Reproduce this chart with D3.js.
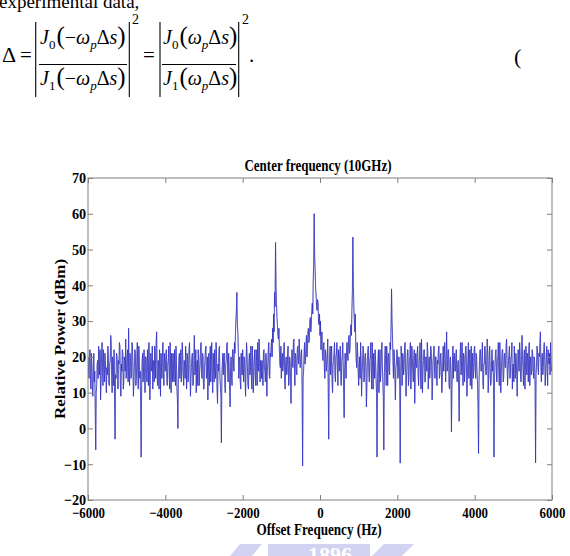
<!DOCTYPE html>
<html>
<head>
<meta charset="utf-8">
<script src="https://cdn.jsdelivr.net/npm/d3@7"></script>
<style>
body { margin: 0; background: #fff; }
svg { display: block; }
text { font-family: "Liberation Serif", "Times New Roman", serif; fill: #000; }
</style>
</head>
<body>
<svg width="570" height="556"></svg>
<script>
// spectrum samples, 12.5 Hz apart, from -6000 Hz (one row = 500 Hz)
var freqStart = -6000;
var freqStep = 12.5;
var power = [
	20,17,14,19,22,15,11,21,18,12,9,16,21,13,16,5,-6,10,12,18,19,14,23,20,15,22,8,13,20,24,17,12,22,18,13,21,19,15,10,17,
	15,23,21,13,12,18,19,26,24,14,10,20,17,12,22,8,-3,15,14,21,20,17,11,19,18,24,23,12,9,18,16,22,21,11,13,20,19,16,25,14,
	17,20,22,13,28,16,12,21,19,14,15,24,23,17,9,13,18,22,21,12,14,19,24,16,11,23,20,14,16,6,-8,12,19,21,13,17,22,15,10,20,
	20,16,13,22,18,12,24,19,8,15,21,17,16,23,11,18,19,13,23,20,14,24,27,15,12,19,18,11,22,17,9,21,17,14,20,24,15,12,21,18,
	16,20,22,14,12,18,19,23,15,11,24,17,10,21,18,13,21,16,13,22,17,12,23,19,11,8,0,15,19,21,14,18,22,13,16,24,20,15,12,19,
	18,14,23,17,11,21,20,13,15,22,24,18,9,14,17,20,21,12,13,19,26,15,16,22,10,17,19,12,22,20,12,16,18,23,24,15,14,21,20,11,
	11,17,19,22,23,14,15,20,8,16,21,12,17,23,13,19,24,15,10,21,18,13,22,17,14,24,20,11,7,18,16,22,23,14,12,9,-4,15,18,21,
	15,20,21,13,10,18,19,23,24,16,13,21,17,11,6,17,20,14,12,22,22,18,16,24,21,26,30,33,38,29,27,22,14,19,20,13,11,21,18,15,
	22,17,13,20,19,14,9,18,24,21,16,12,11,19,21,15,17,23,14,11,23,18,10,16,19,22,15,12,22,19,12,24,20,16,25,21,13,19,18,14,
	19,15,12,21,22,17,16,13,21,19,9,16,18,22,24,15,14,21,20,23,25,20,28,24,32,27,38,34,52,40,35,31,29,26,25,28,22,18,17,23,
	14,19,21,16,18,22,24,13,11,18,20,15,16,21,23,12,13,20,19,14,7,17,22,19,17,24,25,18,12,21,20,16,15,22,23,19,18,25,21,17,
	18,21,22,12,-10.5,14,16,20,24,18,19,23,26,20,22,27,28,24,25,30,31,27,29,33,35,32,41,47,60,48,44,39,37,34,33,36,35,30,29,32,
	26,30,22,25,27,21,19,23,24,17,14,22,21,16,18,20,25,12,-3,15,20,23,15,19,23,13,10,18,19,21,24,15,13,20,21,24,17,12,22,19,
	16,21,23,14,12,19,20,24,18,10,3,16,21,18,14,22,24,20,19,25,26,21,22,27,29,26,33,38,53.5,41,34,30,27,32,23,19,17,24,21,16,
	12,17,20,14,24,19,9,15,18,23,22,13,15,20,21,17,6,12,19,22,23,16,13,19,20,24,16,11,24,18,11,21,18,14,22,19,14,10,-8,13,
	19,22,10,16,22,13,16,21,24,18,13,9,-6,14,20,23,17,12,23,19,12,20,21,16,15,24,22,28,39,30,26,19,14,22,20,15,8,17,18,22,
	21,14,15,20,19,11,-9.7,16,23,19,12,21,20,15,17,23,24,18,9,14,18,22,22,12,14,19,20,24,11,16,23,20,16,13,19,22,7,15,21,18,
	17,21,23,15,12,18,20,24,15,11,25,19,10,16,19,22,22,13,13,20,18,16,24,21,11,17,20,14,16,23,22,18,8,13,19,21,23,16,14,20,
	20,15,12,19,18,22,23,14,15,20,21,17,10,13,19,23,16,21,24,18,13,20,27,16,17,22,22,12,11,19,20,15,-1,11,18,23,14,20,21,16,
	16,20,22,14,13,18,19,10,2,15,21,24,15,19,24,16,12,21,20,13,17,22,23,18,9,15,19,24,14,20,22,12,18,23,11,17,21,14,16,22,
	23,17,14,21,20,15,12,6,-7,13,19,22,22,16,16,20,24,13,11,18,18,23,21,15,15,19,25,21,10,14,20,23,17,12,13,19,22,16,19,12,
	-8,14,18,21,22,16,13,19,20,24,16,12,24,18,10,15,19,22,22,13,14,20,21,17,17,23,25,19,12,16,19,21,23,14,15,20,20,24,11,17,
	18,13,23,19,14,21,20,15,9,17,22,18,16,24,21,14,13,19,26,20,17,12,20,22,11,16,23,19,15,21,19,13,22,24,12,18,20,15,16,22,
	21,16,14,20,19,12,-9.6,15,18,23,22,17,15,21,20,24,27,18,13,20,21,15,17,22,24,19,12,16,20,23,16,12,22,19,18,21,15,24,19,16,
	17
];
var xTicks = [-6000, -4000, -2000, 0, 2000, 4000, 6000];
var yTicks = [-20, -10, 0, 10, 20, 30, 40, 50, 60, 70];
var chartTitle = "Center frequency (10GHz)";
var xTitle = "Offset Frequency (Hz)";
var yTitle = "Relative Power (dBm)";

var svg = d3.select("svg");
var plotLeft = 88, plotRight = 552, plotTop = 178, plotBottom = 500;

var x = d3.scaleLinear().domain([-6000, 6000]).range([plotLeft, plotRight]);
var y = d3.scaleLinear().domain([-20, 70]).range([plotBottom, plotTop]);

// --- text above the figure (equation from the page) ---
svg.append("text")
	.attr("x", -1).attr("y", 8)
	.style("font-size", "19px")
	.text("experimental data,");

function frac(x0, y0, minus, idx) {
	var t = svg.append("text").attr("x", x0).attr("y", y0).style("font-size", "20px");
	t.append("tspan").style("font-style", "italic").text("J");
	t.append("tspan").style("font-size", "13px").attr("dy", 5).text(idx);
	t.append("tspan").style("font-size", "25px").attr("dy", -5).attr("dx", 1).text("(");
	if (minus) t.append("tspan").text("\u2212");
	t.append("tspan").style("font-style", "italic").text("\u03c9");
	t.append("tspan").style("font-style", "italic").style("font-size", "13px").attr("dy", 5).text("p");
	t.append("tspan").attr("dy", -5).text("\u0394");
	t.append("tspan").style("font-style", "italic").text("s");
	t.append("tspan").style("font-size", "25px").text(")");
}

svg.append("text").attr("x", 2).attr("y", 62).style("font-size", "22px").text("\u0394");
svg.append("text").attr("x", 20).attr("y", 62).style("font-size", "21px").text("=");
frac(40, 44, true, "0");
frac(40, 85, true, "1");
svg.append("line").attr("x1", 39).attr("x2", 127).attr("y1", 64.5).attr("y2", 64.5).attr("stroke", "#000");
[35.7, 129.3, 160, 238.7].forEach(function(bx) {
	svg.append("line").attr("x1", bx).attr("x2", bx).attr("y1", 22).attr("y2", 97)
		.attr("stroke", "#000").attr("stroke-width", 1.1);
});
svg.append("text").attr("x", 132).attr("y", 24).style("font-size", "14px").text("2");
svg.append("text").attr("x", 143).attr("y", 62).style("font-size", "21px").text("=");
frac(163, 44, false, "0");
frac(163, 85, false, "1");
svg.append("line").attr("x1", 162).attr("x2", 236).attr("y1", 64.5).attr("y2", 64.5).attr("stroke", "#000");
svg.append("text").attr("x", 242).attr("y", 24).style("font-size", "14px").text("2");
svg.append("text").attr("x", 249).attr("y", 62).style("font-size", "21px").text(".");
svg.append("text").attr("x", 514).attr("y", 64).style("font-size", "22px").text("(");

// --- spectrum trace ---
var freq = d3.range(power.length).map(function(i) { return freqStart + i * freqStep; });

svg.append("clipPath").attr("id", "plotClip")
	.append("rect").attr("x", plotLeft).attr("y", plotTop)
	.attr("width", plotRight - plotLeft).attr("height", plotBottom - plotTop);

var line = d3.line()
	.x(function(d, i) { return x(freq[i]); })
	.y(function(d) { return y(d); });

// soft grey halo then the blue trace, like the blurred print
svg.append("path")
	.datum(power)
	.attr("clip-path", "url(#plotClip)")
	.attr("fill", "none")
	.attr("stroke", "#9a9abc")
	.attr("stroke-width", 1)
	.attr("d", line);

svg.append("path")
	.datum(power)
	.attr("clip-path", "url(#plotClip)")
	.attr("fill", "none")
	.attr("stroke", "#1c1cd0")
	.attr("stroke-width", 0.55)
	.attr("d", line);

// --- axes ---
var axisColor = "#808080";

svg.append("rect")
	.attr("x", plotLeft).attr("y", plotTop)
	.attr("width", plotRight - plotLeft).attr("height", plotBottom - plotTop)
	.attr("fill", "none").attr("stroke", axisColor);

var xAxis = svg.append("g").attr("transform", "translate(0," + plotBottom + ")")
	.call(d3.axisBottom(x).tickValues(xTicks).tickSizeInner(-5).tickSizeOuter(0).tickPadding(7).tickFormat(d3.format("d")));
var xTop = svg.append("g").attr("transform", "translate(0," + plotTop + ")")
	.call(d3.axisTop(x).tickValues(xTicks).tickSizeInner(-5).tickSizeOuter(0).tickFormat(""));
var yAxis = svg.append("g").attr("transform", "translate(" + plotLeft + ",0)")
	.call(d3.axisLeft(y).tickValues(yTicks).tickSizeInner(-5).tickSizeOuter(0).tickPadding(2).tickFormat(d3.format("d")));
var yRight = svg.append("g").attr("transform", "translate(" + plotRight + ",0)")
	.call(d3.axisRight(y).tickValues(yTicks).tickSizeInner(-5).tickSizeOuter(0).tickFormat(""));

[xAxis, xTop, yAxis, yRight].forEach(function(g) {
	g.select(".domain").remove();
	g.selectAll(".tick line").attr("stroke", axisColor);
	g.selectAll(".tick text")
		.style("font-family", "'Liberation Serif', serif")
		.style("font-size", "15px")
		.style("font-weight", "bold")
		.attr("fill", "#000");
});
xAxis.selectAll(".tick text").attr("transform", "scale(0.86,1)");
yAxis.selectAll(".tick text").attr("transform", "scale(0.95,1)");

// --- titles ---
svg.append("text")
	.attr("transform", "translate(318,171) scale(0.81,1)")
	.attr("text-anchor", "middle")
	.style("font-size", "16px").style("font-weight", "bold")
	.text(chartTitle);

svg.append("text")
	.attr("transform", "translate(319,535) scale(0.82,1)")
	.attr("text-anchor", "middle")
	.style("font-size", "16px").style("font-weight", "bold")
	.text(xTitle);

svg.append("text")
	.attr("transform", "translate(65,339) rotate(-90) scale(1,0.82)")
	.attr("text-anchor", "middle")
	.style("font-size", "17px").style("font-weight", "bold")
	.text(yTitle);

// --- watermark at page bottom ---
var mark = svg.append("g").attr("fill", "#d2d2f2");
mark.append("polygon").attr("points", "240,544 262,544 252,556 230,556");
mark.append("rect").attr("x", 268).attr("y", 544).attr("width", 102).attr("height", 12);
mark.append("polygon").attr("points", "384,544 414,544 402,556 372,556");
mark.append("text")
	.attr("x", 330).attr("y", 562)
	.attr("text-anchor", "middle")
	.style("font-size", "22px").style("font-weight", "bold")
	.style("fill", "#fff")
	.text("1896");
</script>
</body>
</html>
